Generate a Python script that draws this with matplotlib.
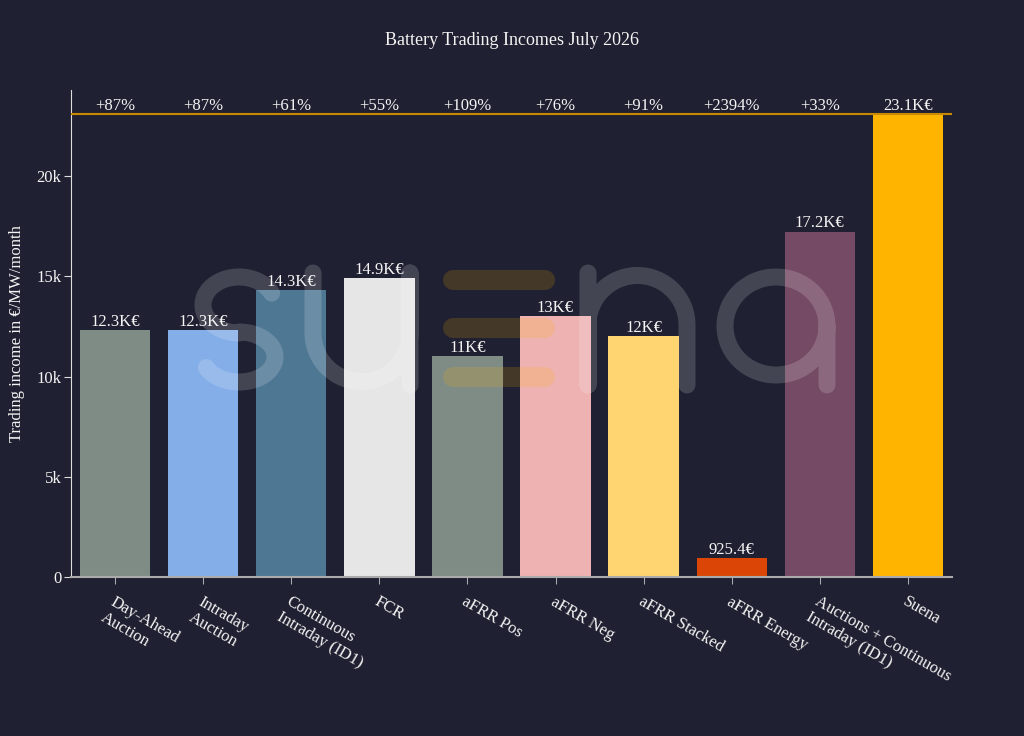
import numpy as np
import matplotlib
matplotlib.use("Agg")
import matplotlib.pyplot as plt

# data
categories = ["Day-Ahead\nAuction", "Intraday\nAuction", "Continuous\nIntraday (ID1)", "FCR",
              "aFRR Pos", "aFRR Neg", "aFRR Stacked", "aFRR Energy",
              "Auctions + Continuous\nIntraday (ID1)", "Suena"]
income = [12300, 12300, 14300, 14900, 11000, 13000, 12000, 925.4, 17200, 23100]
gain_pct = [87, 87, 61, 55, 109, 76, 91, 2394, 33]
bar_colors = ["#7f8c85", "#84aee8", "#4e7793", "#e6e6e6", "#7f8c85",
              "#edb2b1", "#ffd571", "#db4505", "#744a64", "#ffb400"]
yticks = [0, 5000, 10000, 15000, 20000]
ytick_labels = ["0", "5k", "10k", "15k", "20k"]

bg = "#1f2031"
txt = "#f4f4f4"
plt.rcParams["font.family"] = ["Liberation Serif", "DejaVu Serif"]
plt.rcParams["font.size"] = 12

fig = plt.figure(figsize=(10.24, 7.36), dpi=100, facecolor=bg)
ax = fig.add_axes([0.0693, 0.216, 0.8604, 0.6617])
ax.set_facecolor(bg)

x = np.arange(len(categories))
ax.bar(x, income, width=0.8, color=bar_colors, zorder=2)

ax.set_xlim(-0.5, len(categories) - 0.5)
ax.set_ylim(0, 24290)

# reference line at the Suena value
ax.axhline(income[-1], color="#c98a00", lw=1.5, zorder=3)

def fmt(v):
    if v >= 1000:
        return f"{v/1000:.3g}K€"
    return f"{v:.1f}€"

for i, v in enumerate(income[:-1]):
    ax.annotate(fmt(v), (i, v), xytext=(0, 0.5), textcoords="offset points",
                ha="center", va="bottom", color=txt, fontsize=12, zorder=4)
    ax.annotate(f"+{gain_pct[i]}%", (i, income[-1]), xytext=(0, 0), textcoords="offset points",
                ha="center", va="bottom", color=txt, fontsize=12, zorder=4)
ax.annotate(fmt(income[-1]), (len(income) - 1, income[-1]), xytext=(0, 0),
            textcoords="offset points", ha="center", va="bottom", color=txt, fontsize=12, zorder=4)

ax.set_xticks(x)
ax.set_xticklabels(categories, rotation=-30, ha="left", va="top", rotation_mode="anchor",
                   multialignment="left", color=txt, fontsize=12)
ax.set_yticks(yticks)
ax.set_yticklabels(ytick_labels, color=txt, fontsize=12)
ax.tick_params(axis="x", length=5, color="#aaaaaa", pad=7)
ax.tick_params(axis="y", length=5, color="#dddddd", pad=2)

for s in ["top", "right"]:
    ax.spines[s].set_visible(False)
ax.spines["left"].set_color("#dddddd")
ax.spines["left"].set_linewidth(0.8)
ax.spines["bottom"].set_color("#aaaaaa")
ax.spines["bottom"].set_linewidth(1.5)

ax.set_ylabel("Trading income in €/MW/month", color=txt, fontsize=12, labelpad=8)
fig.text(0.5, 0.945, "Battery Trading Incomes July 2026", ha="center", va="center",
         color=txt, fontsize=13)

# suena watermark, pixel coords
wm = fig.add_axes([0, 0, 1, 1], zorder=5)
wm.set_xlim(0, 1024)
wm.set_ylim(736, 0)
wm.axis("off")
wm.patch.set_alpha(0)
lw = 17 * 72 / 100
gray = dict(color="white", alpha=0.17, lw=lw, solid_capstyle="round", solid_joinstyle="round")

# s
t1 = np.radians(np.linspace(-25, -270, 60))
t2 = np.radians(np.linspace(-90, 155, 60))
sx = np.concatenate([239 + 36 * np.cos(t1), 239 + 36 * np.cos(t2)])
sy = np.concatenate([305 + 28 * np.sin(t1), 357 + 25 * np.sin(t2)])
wm.plot(sx, sy, **gray)

# u
t = np.radians(np.linspace(180, 0, 60))
ux = np.concatenate([[313], 361.5 + 48.5 * np.cos(t), [410, 410]])
uy = np.concatenate([[273], 333 + 48.5 * np.sin(t), [273, 385]])
wm.plot(ux, uy, **gray)

# e (three orange bars)
for yy in [280, 328, 377]:
    wm.plot([453, 545], [yy, yy], color="#ffb400", alpha=0.17, lw=20 * 72 / 100,
            solid_capstyle="round")

# n
t = np.radians(np.linspace(180, 360, 60))
nx = np.concatenate([[588, 588, 588], 637.5 + 49.5 * np.cos(t), [687]])
ny = np.concatenate([[273, 385, 325], 325 + 49.5 * np.sin(t), [385]])
wm.plot(nx, ny, **gray)

# a
t = np.radians(np.linspace(0, 360, 100))
ax_ = np.concatenate([776 + 51 * np.cos(t), [827]])
ay_ = np.concatenate([326 + 49 * np.sin(t), [385]])
wm.plot(ax_, ay_, **gray)

fig.savefig("out.png", dpi=100, facecolor=bg)
